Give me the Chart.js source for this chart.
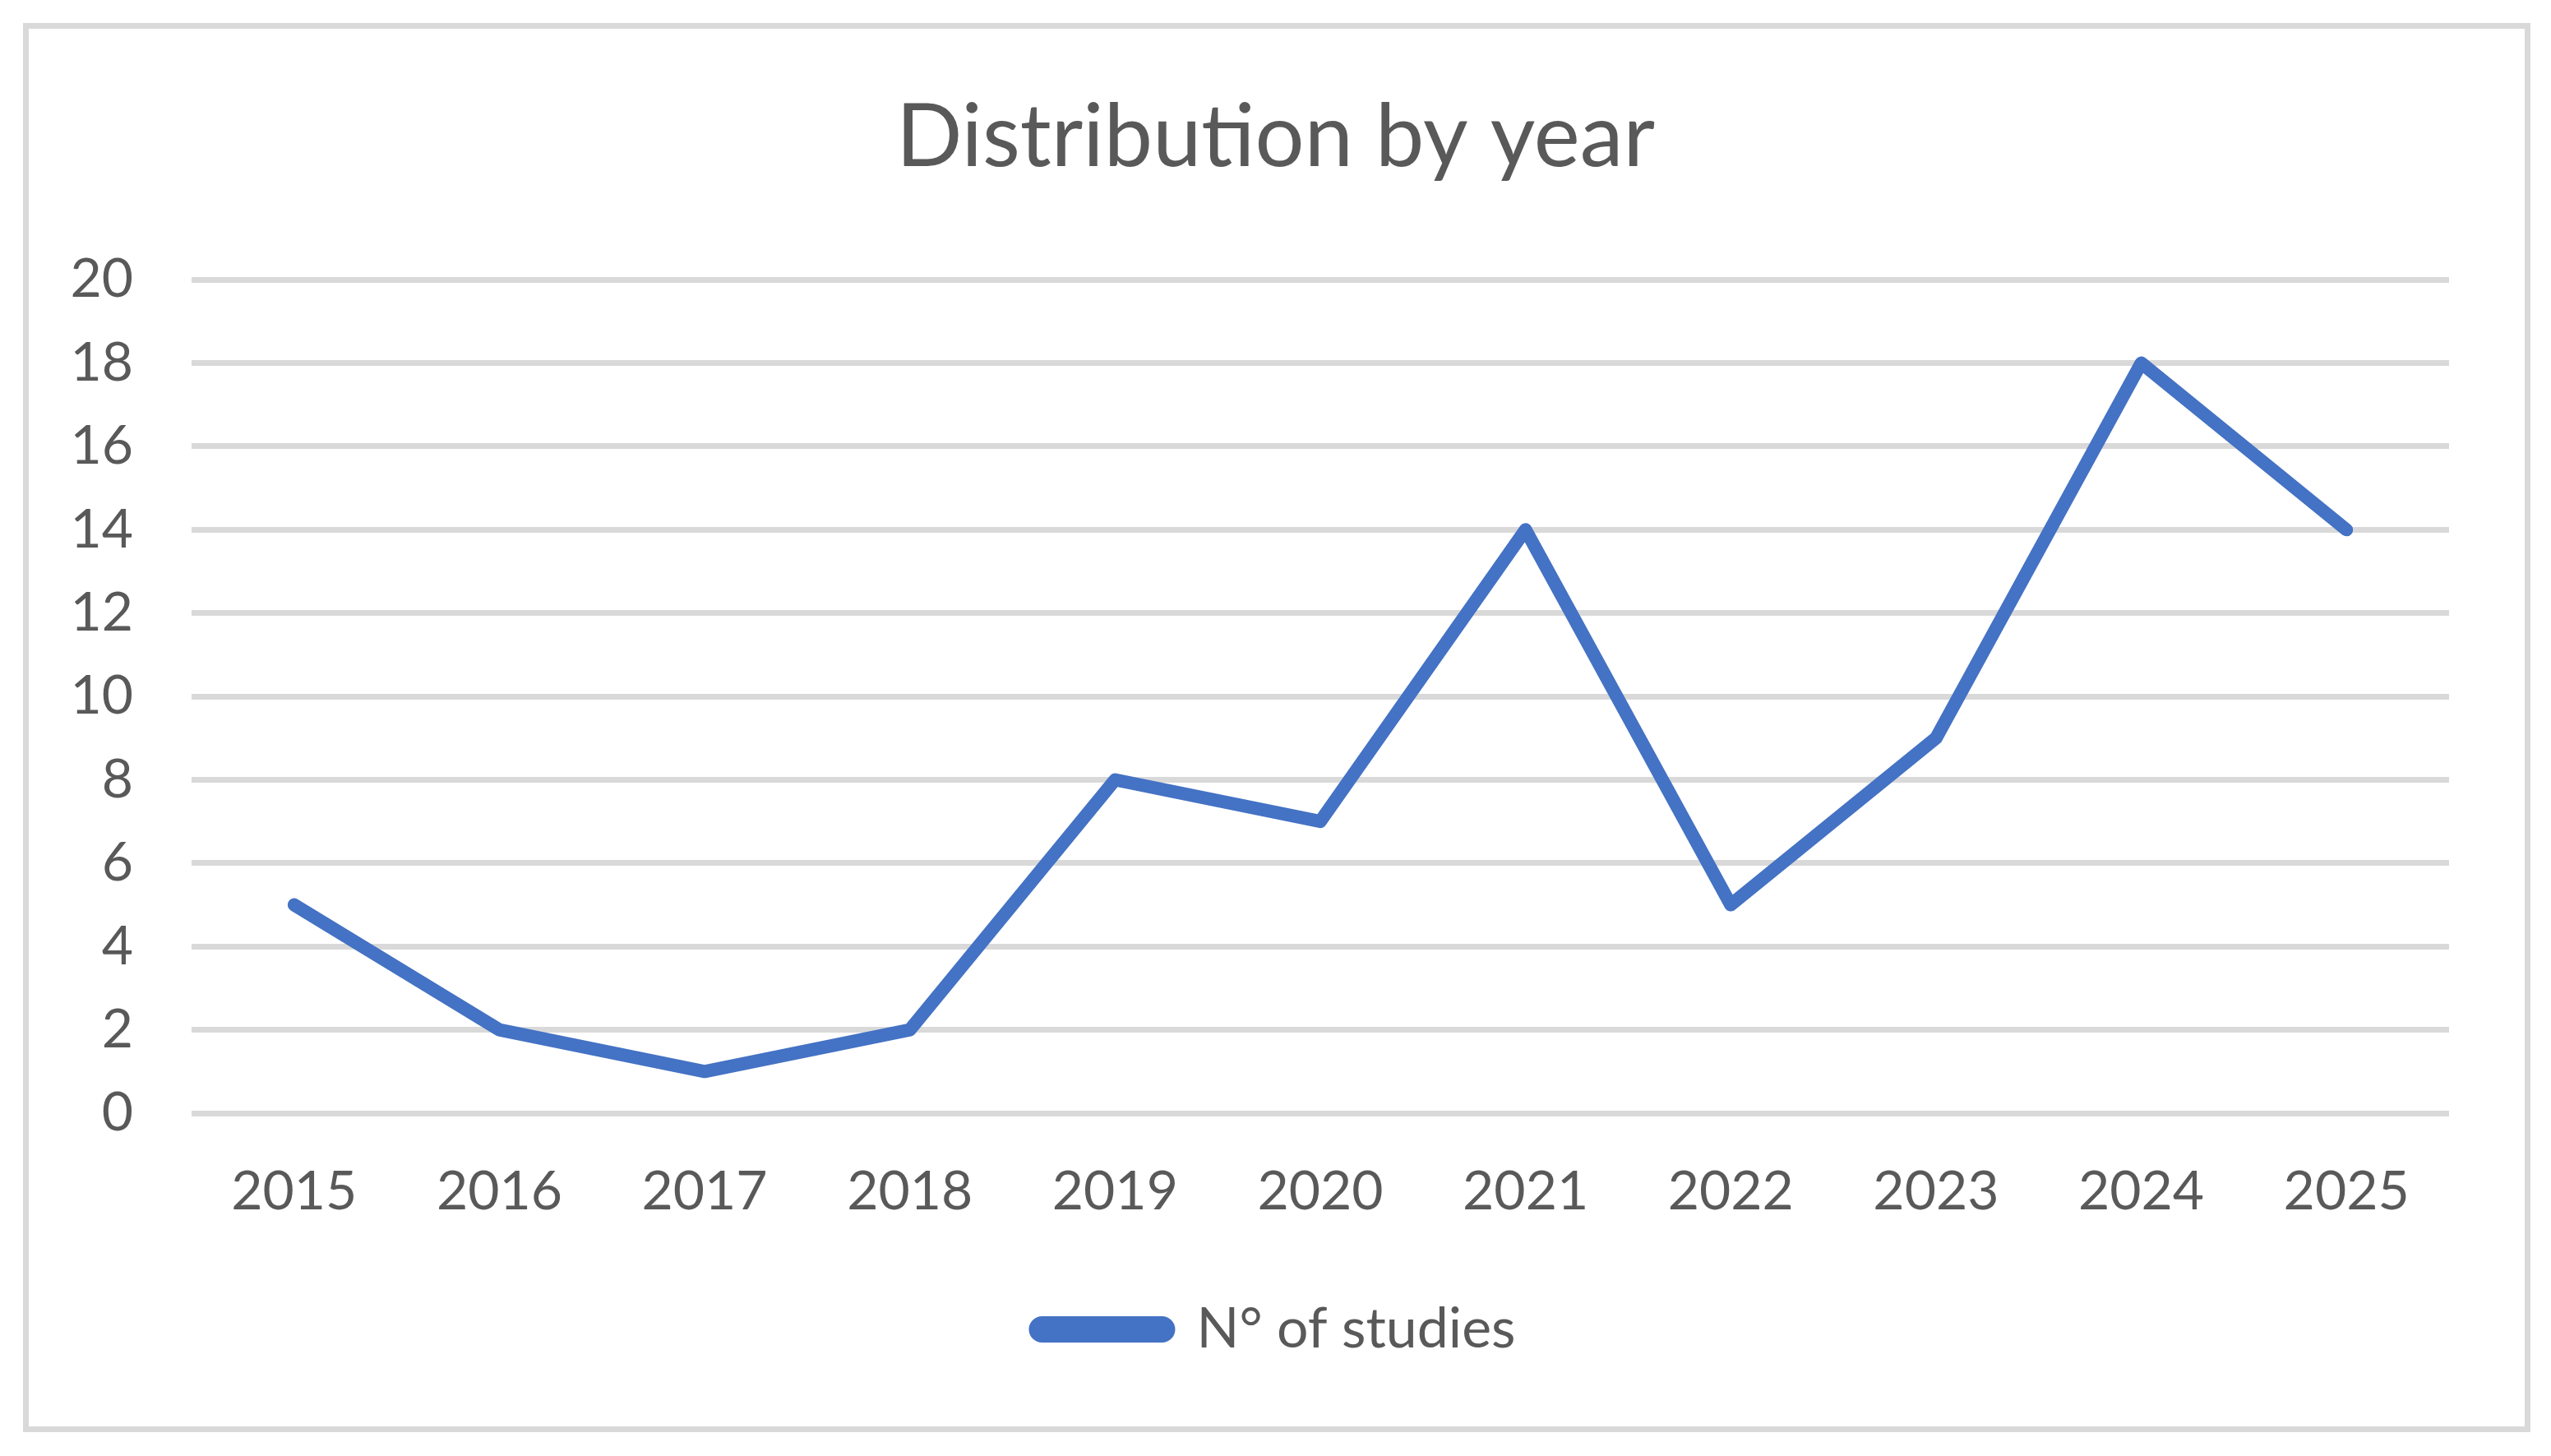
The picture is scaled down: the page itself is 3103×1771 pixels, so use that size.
<!DOCTYPE html>
<html>
<head>
<meta charset="utf-8">
<script src="https://cdn.jsdelivr.net/npm/chart.js@4"></script>
<style>
  html, body { margin: 0; padding: 0; background: #ffffff; }
  #wrap { width: 3103px; height: 1771px; }
</style>
</head>
<body>
<div id="wrap"><canvas id="chart" width="3103" height="1771"></canvas></div>
<script>
'use strict';

// valores
var years = ['2015', '2016', '2017', '2018', '2019', '2020', '2021', '2022', '2023', '2024', '2025'];
var studies = [5, 2, 1, 2, 8, 7, 14, 5, 9, 18, 14];
var yTicks = [0, 2, 4, 6, 8, 10, 12, 14, 16, 18, 20];

var textColor = '#595959';
var gridColor = '#d9d9d9';
var lineColor = '#4472C4';
var fontFamily = 'Lato, "Open Sans", sans-serif';

// moldura cinza à volta do gráfico
var framePlugin = {
    id: 'frame',
    beforeDraw: function(chart) {
        var ctx = chart.ctx;
        ctx.save();
        ctx.fillStyle = '#ffffff';
        ctx.fillRect(0, 0, chart.width, chart.height);
        ctx.strokeStyle = gridColor;
        ctx.lineWidth = 7;
        ctx.strokeRect(31.5, 31.5, 3043, 1707);
        ctx.restore();
    }
};

new Chart(document.getElementById('chart'), {
    type: 'line',
    data: {
        labels: years,
        datasets: [{
            label: 'N° of studies',
            data: studies,
            borderColor: lineColor,
            backgroundColor: lineColor,
            borderWidth: 16,
            borderCapStyle: 'round',
            borderJoinStyle: 'round',
            pointRadius: 0,
            tension: 0,
            fill: false
        }]
    },
    options: {
        responsive: false,
        animation: false,
        devicePixelRatio: 1,
        layout: { padding: { left: 0, right: 0, top: 0, bottom: 110 } },
        plugins: {
            title: {
                display: true,
                text: 'Distribution by year',
                color: textColor,
                font: { family: fontFamily, size: 106, weight: 'normal', lineHeight: 1.2 },
                padding: { top: 104, bottom: 109 }
            },
            legend: {
                display: true,
                position: 'bottom',
                labels: {
                    color: textColor,
                    font: { family: fontFamily, size: 68 },
                    boxWidth: 162,
                    boxHeight: 16,
                    useBorderRadius: true,
                    borderRadius: 8,
                    padding: 10
                }
            },
            tooltip: { enabled: false }
        },
        scales: {
            x: {
                offset: true,
                grid: { display: false, drawTicks: false },
                border: { display: false },
                ticks: {
                    color: textColor,
                    font: { family: fontFamily, size: 66 },
                    padding: 56,
                    maxRotation: 0
                },
                afterFit: function(scale) { scale.height = 219; }
            },
            y: {
                min: 0,
                max: 20,
                afterBuildTicks: function(scale) {
                    scale.ticks = yTicks.map(function(v) { return { value: v }; });
                },
                grid: { color: gridColor, lineWidth: 7, drawTicks: false },
                border: { display: false },
                ticks: {
                    color: textColor,
                    font: { family: fontFamily, size: 66 },
                    padding: 71
                },
                afterFit: function(scale) { scale.width = 233; }
            },
            // eixo vazio só para reservar a margem direita
            yRight: {
                position: 'right',
                display: true,
                grid: { display: false, drawTicks: false },
                border: { display: false },
                ticks: { display: false },
                afterFit: function(scale) { scale.width = 124; }
            }
        }
    },
    plugins: [framePlugin]
});
</script>
</body>
</html>
